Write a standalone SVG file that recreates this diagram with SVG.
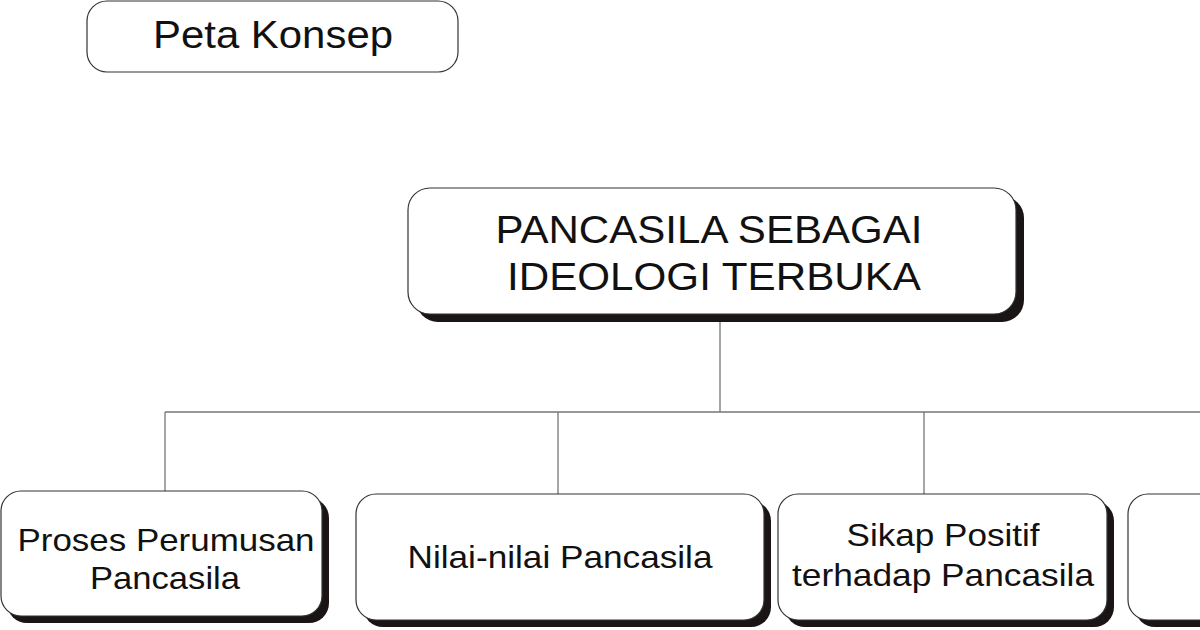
<svg xmlns="http://www.w3.org/2000/svg" width="1200" height="630" viewBox="0 0 1200 630">
<style>
.b{fill:#fff;stroke:#333;stroke-width:1.2}
.s{fill:#1a1414}
.t{font-family:"Liberation Sans",Arial,sans-serif;fill:#111;text-anchor:middle}
.c{stroke:#777;stroke-width:1.3;fill:none}
</style>
<rect width="1200" height="630" fill="#fff"/>
<g id="title"><rect class="b" x="87" y="1" width="371" height="71" rx="20"/><text class="t" x="273" y="48" font-size="38" textLength="240" lengthAdjust="spacingAndGlyphs">Peta Konsep</text></g>
<g id="connectors">
<path class="c" d="M720 314V412M165 412H1200M165 412V491M558 412V494M924 412V494"/>
</g>
<g id="main"><rect class="s" x="416" y="196" width="608" height="126" rx="22"/><rect class="b" x="408" y="188" width="608" height="126" rx="22"/>
<text class="t" x="709" y="243" font-size="39" textLength="427" lengthAdjust="spacingAndGlyphs">PANCASILA SEBAGAI</text><text class="t" x="714" y="290" font-size="39" textLength="414" lengthAdjust="spacingAndGlyphs">IDEOLOGI TERBUKA</text></g>
<g id="n1"><rect class="s" x="7" y="498" width="322" height="125" rx="20"/><rect class="b" x="1" y="491" width="321" height="125" rx="20"/>
<text class="t" x="166" y="551" font-size="32" textLength="297" lengthAdjust="spacingAndGlyphs">Proses Perumusan</text><text class="t" x="165" y="589" font-size="32" textLength="150" lengthAdjust="spacingAndGlyphs">Pancasila</text></g>
<g id="n2"><rect class="s" x="363" y="501" width="408" height="126" rx="20"/><rect class="b" x="356" y="494" width="408" height="126" rx="20"/>
<text class="t" x="560" y="568" font-size="32" textLength="305" lengthAdjust="spacingAndGlyphs">Nilai-nilai Pancasila</text></g>
<g id="n3"><rect class="s" x="785" y="501" width="329" height="126" rx="20"/><rect class="b" x="778" y="494" width="329" height="126" rx="20"/>
<text class="t" x="943" y="546" font-size="32" textLength="193" lengthAdjust="spacingAndGlyphs">Sikap Positif</text><text class="t" x="943" y="586" font-size="32" textLength="302" lengthAdjust="spacingAndGlyphs">terhadap Pancasila</text></g>
<g id="n4"><rect class="s" x="1135" y="501" width="100" height="126" rx="20"/><rect class="b" x="1128" y="494" width="100" height="126" rx="20"/></g>
</svg>
